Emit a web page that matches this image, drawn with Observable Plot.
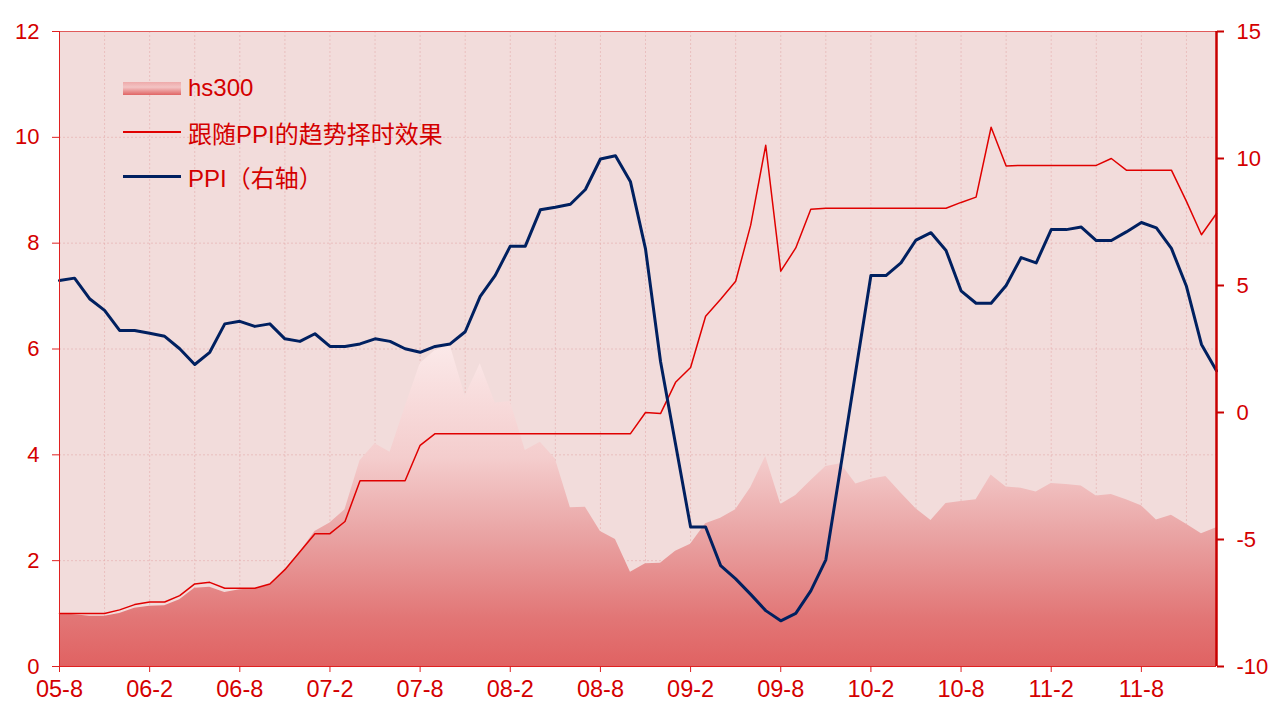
<!DOCTYPE html>
<html><head><meta charset="utf-8">
<script src="https://cdn.jsdelivr.net/npm/d3@7"></script>
<script src="https://cdn.jsdelivr.net/npm/@observablehq/plot@0.6"></script>
<style>
body{margin:0;background:#fff;}
#wrap{position:relative;width:1284px;height:717px;font-family:"Liberation Sans",Arial,"Noto Sans CJK SC",sans-serif;}
.lg{position:absolute;left:123px;height:28px;display:flex;align-items:center;color:#d40000;font-size:24px;font-family:"Liberation Sans",Arial,"Noto Sans CJK SC",sans-serif;white-space:nowrap;}
.sw{display:inline-block;width:58px;margin-right:7px;}
</style></head>
<body><div id="wrap"></div>
<script>
// Monthly series, 2005-08 .. 2012-01
const hs300 = [1.00,0.98,0.95,0.95,1.00,1.10,1.14,1.15,1.26,1.48,1.50,1.40,1.45,1.47,1.54,1.81,2.16,2.55,2.71,2.96,
  3.89,4.21,4.05,4.90,5.72,5.97,6.07,5.11,5.72,4.98,5.01,4.08,4.24,3.92,3.00,3.01,2.55,2.40,1.78,1.94,
  1.95,2.18,2.31,2.70,2.80,2.96,3.38,3.97,3.06,3.23,3.51,3.78,3.83,3.45,3.54,3.59,3.28,2.98,2.76,3.08,
  3.12,3.15,3.62,3.39,3.37,3.30,3.46,3.44,3.41,3.22,3.25,3.15,3.04,2.77,2.86,2.69,2.51,2.62];
const strategy = [1.00,1.00,1.00,1.00,1.07,1.17,1.22,1.22,1.34,1.56,1.59,1.48,1.48,1.48,1.56,1.83,2.17,2.51,2.51,2.74,
  3.51,3.51,3.51,3.51,4.18,4.40,4.40,4.40,4.40,4.40,4.40,4.40,4.40,4.40,4.40,4.40,4.40,4.40,4.40,4.80,
  4.78,5.37,5.65,6.62,6.94,7.28,8.34,9.85,7.47,7.91,8.64,8.66,8.66,8.66,8.66,8.66,8.66,8.66,8.66,8.66,
  8.77,8.87,10.19,9.46,9.47,9.47,9.47,9.47,9.47,9.47,9.60,9.38,9.38,9.38,9.38,8.79,8.16,8.56];
const ppi = [5.20,5.29,4.48,4.02,3.23,3.23,3.12,3.00,2.51,1.89,2.37,3.49,3.59,3.39,3.49,2.90,2.80,3.10,2.60,2.60,
  2.70,2.90,2.80,2.51,2.37,2.60,2.70,3.18,4.57,5.40,6.55,6.55,7.98,8.08,8.20,8.78,9.98,10.11,9.08,6.44,
  2.01,-1.25,-4.51,-4.51,-6.03,-6.55,-7.16,-7.80,-8.20,-7.91,-7.02,-5.80,-2.10,1.65,5.39,5.39,5.89,6.79,7.08,6.38,
  4.79,4.30,4.30,5.00,6.10,5.89,7.20,7.20,7.30,6.77,6.77,7.11,7.48,7.27,6.46,4.97,2.68,1.64];
const xTickLabels = ["05-8","06-2","06-8","07-2","07-8","08-2","08-8","09-2","09-8","10-2","10-8","11-2","11-8"];
const leftTicks = [0,2,4,6,8,10,12];
const rightTicks = [-10,-5,0,5,10,15];
const seriesNames = ["hs300","跟随PPI的趋势择时效果","PPI（右轴）"];

const months = [];
for (let i = 0; i < hs300.length; i++) {
  const m = 7 + i;
  months.push(String(2005 + Math.floor(m / 12)).slice(2) + "-" + (m % 12 + 1));
}
const rows = months.map((m, i) => ({i, month: m, hs: hs300[i], strat: strategy[i], ppi: ppi[i]}));
const last = rows.length - 1;
const toLeft = v => (v + 10) * 12 / 25;
const fromLeft = d => String(Math.round(d * 25 / 12 - 10));
const xTicks = months.map((m, i) => xTickLabels.includes(m) ? i : null).filter(d => d !== null);
const gridX = months.map((m, i) => i).filter(i => i % 3 === 0 && i > 0 && i < last);

const defsMark = () => {
  const ns = "http://www.w3.org/2000/svg";
  const defs = document.createElementNS(ns, "defs");
  const g = document.createElementNS(ns, "linearGradient");
  g.setAttribute("id", "hsGrad");
  g.setAttribute("x1", "0"); g.setAttribute("y1", "0");
  g.setAttribute("x2", "0"); g.setAttribute("y2", "1");
  [[0, "#fbe9e9"], [0.35, "#f4cdcd"], [0.6, "#e9a2a2"], [0.85, "#e27676"], [1, "#e06262"]].forEach(([o, c]) => {
    const s = document.createElementNS(ns, "stop");
    s.setAttribute("offset", o); s.setAttribute("stop-color", c);
    g.appendChild(s);
  });
  defs.appendChild(g);
  return defs;
};

const grid = {stroke: "#e3a8a8", strokeDasharray: "2,2", strokeWidth: 1, strokeOpacity: 0.55};
const chart = Plot.plot({
  width: 1284, height: 717,
  marginLeft: 59, marginRight: 68, marginTop: 31, marginBottom: 51,
  style: {fontFamily: "'Liberation Sans', Arial, sans-serif", color: "#d40000", background: "transparent", overflow: "visible"},
  x: {domain: [0, last]},
  y: {domain: [0, 12]},
  marks: [
    defsMark,
    Plot.frame({fill: "#f2dcdb", stroke: null}),
    Plot.ruleX(gridX, grid),
    Plot.ruleY(leftTicks.filter(d => d > 0 && d < 12), grid),
    Plot.areaY(rows, {x: "i", y: "hs", fill: "url(#hsGrad)"}),
    Plot.lineY(rows, {x: "i", y: "strat", stroke: "#e00000", strokeWidth: 1.5}),
    Plot.lineY(rows, {x: "i", y: d => toLeft(d.ppi), stroke: "#002060", strokeWidth: 3}),
    Plot.ruleY([12], {stroke: "#e05a5a", strokeWidth: 1}),
    Plot.ruleY([0], {stroke: "#e02020", strokeWidth: 1}),
    Plot.ruleX([0], {stroke: "#e02020", strokeWidth: 1}),
    Plot.ruleX([last], {stroke: "#c80000", strokeWidth: 2.5}),
    Plot.axisY(leftTicks, {anchor: "left", tickSize: 7, tickPadding: 13, fontSize: 22, stroke: "#e02020", tickFormat: d => String(d), label: null}),
    Plot.axisY(rightTicks.map(toLeft), {anchor: "right", tickSize: 7, tickPadding: 13, fontSize: 22, strokeWidth: 2, stroke: "#c80000", tickFormat: fromLeft, label: null}),
    Plot.axisX(xTicks, {anchor: "bottom", tickSize: 6, tickPadding: 8, fontSize: 23.5, stroke: "#e02020", tickFormat: i => months[i], label: null})
  ]
});
const wrap = document.getElementById("wrap");
wrap.appendChild(chart);

const legendItems = [
  {name: seriesNames[0], top: 74, swatch: "height:13px;background:linear-gradient(#eeaaaa,#f3c4c4 40%,#e06464);"},
  {name: seriesNames[1], top: 118, swatch: "height:1.5px;background:#e00000;"},
  {name: seriesNames[2], top: 162, swatch: "height:3px;background:#002060;"}
];
legendItems.forEach(it => {
  const d = document.createElement("div");
  d.className = "lg";
  d.style.top = it.top + "px";
  const s = document.createElement("span");
  s.className = "sw";
  s.style.cssText += it.swatch;
  d.appendChild(s);
  d.appendChild(document.createTextNode(it.name));
  wrap.appendChild(d);
});
</script>
</body></html>
